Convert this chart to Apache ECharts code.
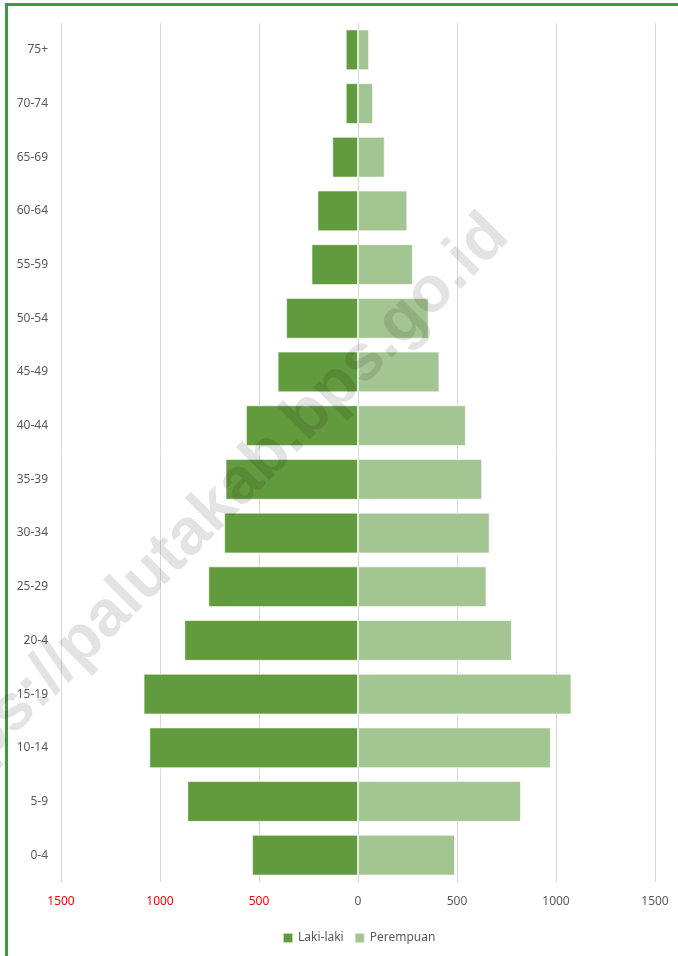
<!DOCTYPE html>
<html>
<head>
<meta charset="utf-8">
<script src="https://cdn.jsdelivr.net/npm/echarts@6/dist/echarts.min.js"></script>
<style>
  html, body { margin: 0; padding: 0; background: #fff; }
  #chart { width: 678px; height: 956px; }
</style>
</head>
<body>
<div id="chart"></div>
<script>
// kelompok umur, dari bawah ke atas
const ageGroups = ['0-4', '5-9', '10-14', '15-19', '20-4', '25-29', '30-34', '35-39',
                   '40-44', '45-49', '50-54', '55-59', '60-64', '65-69', '70-74', '75+'];
const laki = [535, 862, 1054, 1083, 877, 756, 676, 669, 566, 406, 363, 235, 205, 130, 62, 62];
const perempuan = [490, 823, 974, 1078, 777, 649, 665, 627, 545, 411, 357, 277, 249, 135, 76, 56];
const xTicks = [-1500, -1000, -500, 0, 500, 1000, 1500];

const chart = echarts.init(document.getElementById('chart'));

const option = {
  animation: false,
  textStyle: { fontFamily: 'Noto Sans' },
  grid: { left: 61, right: 23, top: 23, bottom: 74 },
  legend: {
    bottom: 7,
    left: 277,
    itemWidth: 10,
    itemHeight: 10,
    itemGap: 10,
    icon: 'rect',
    textStyle: { color: '#595959', fontSize: 12 },
    data: ['Laki-laki', 'Perempuan']
  },
  xAxis: {
    type: 'value',
    min: xTicks[0],
    max: xTicks[xTicks.length - 1],
    interval: 500,
    axisLine: { show: false },
    axisTick: { show: false },
    splitLine: { lineStyle: { color: '#d9d9d9', width: 1 } },
    axisLabel: {
      margin: 14,
      fontSize: 12,
      formatter: v => Math.abs(v),
      color: v => (v < 0 ? '#ff0000' : '#595959')
    }
  },
  yAxis: {
    type: 'category',
    data: ageGroups,
    axisLine: { show: false },
    axisTick: { show: false },
    axisLabel: { margin: 13, fontSize: 12, color: '#595959' }
  },
  series: [
    {
      name: 'Laki-laki',
      type: 'bar',
      stack: 'pop',
      barCategoryGap: '24%',
      itemStyle: { color: '#629a3e', borderColor: 'rgba(255,255,255,0.6)', borderWidth: 1 },
      data: laki.map(v => -v)
    },
    {
      name: 'Perempuan',
      type: 'bar',
      stack: 'pop',
      barCategoryGap: '24%',
      itemStyle: { color: '#a3c591', borderColor: 'rgba(255,255,255,0.6)', borderWidth: 1 },
      data: perempuan
    }
  ],
  graphic: [
    // bingkai hijau
    { type: 'rect', left: 5, top: 3, shape: { width: 3, height: 960 }, style: { fill: '#3a9d3a' }, z: 100 },
    { type: 'rect', left: 5, top: 3, shape: { width: 680, height: 3 }, style: { fill: '#3a9d3a' }, z: 100 },
    // watermark
    {
      type: 'text',
      x: 206, y: 518,
      rotation: 45 * Math.PI / 180,
      z: 100,
      style: {
        text: 'https://palutakab.bps.go.id',
        font: 'bold 65px "Liberation Sans"',
        fill: 'rgba(0,0,0,0.11)',
        align: 'center',
        verticalAlign: 'middle'
      }
    }
  ]
};

chart.setOption(option);
</script>
</body>
</html>
